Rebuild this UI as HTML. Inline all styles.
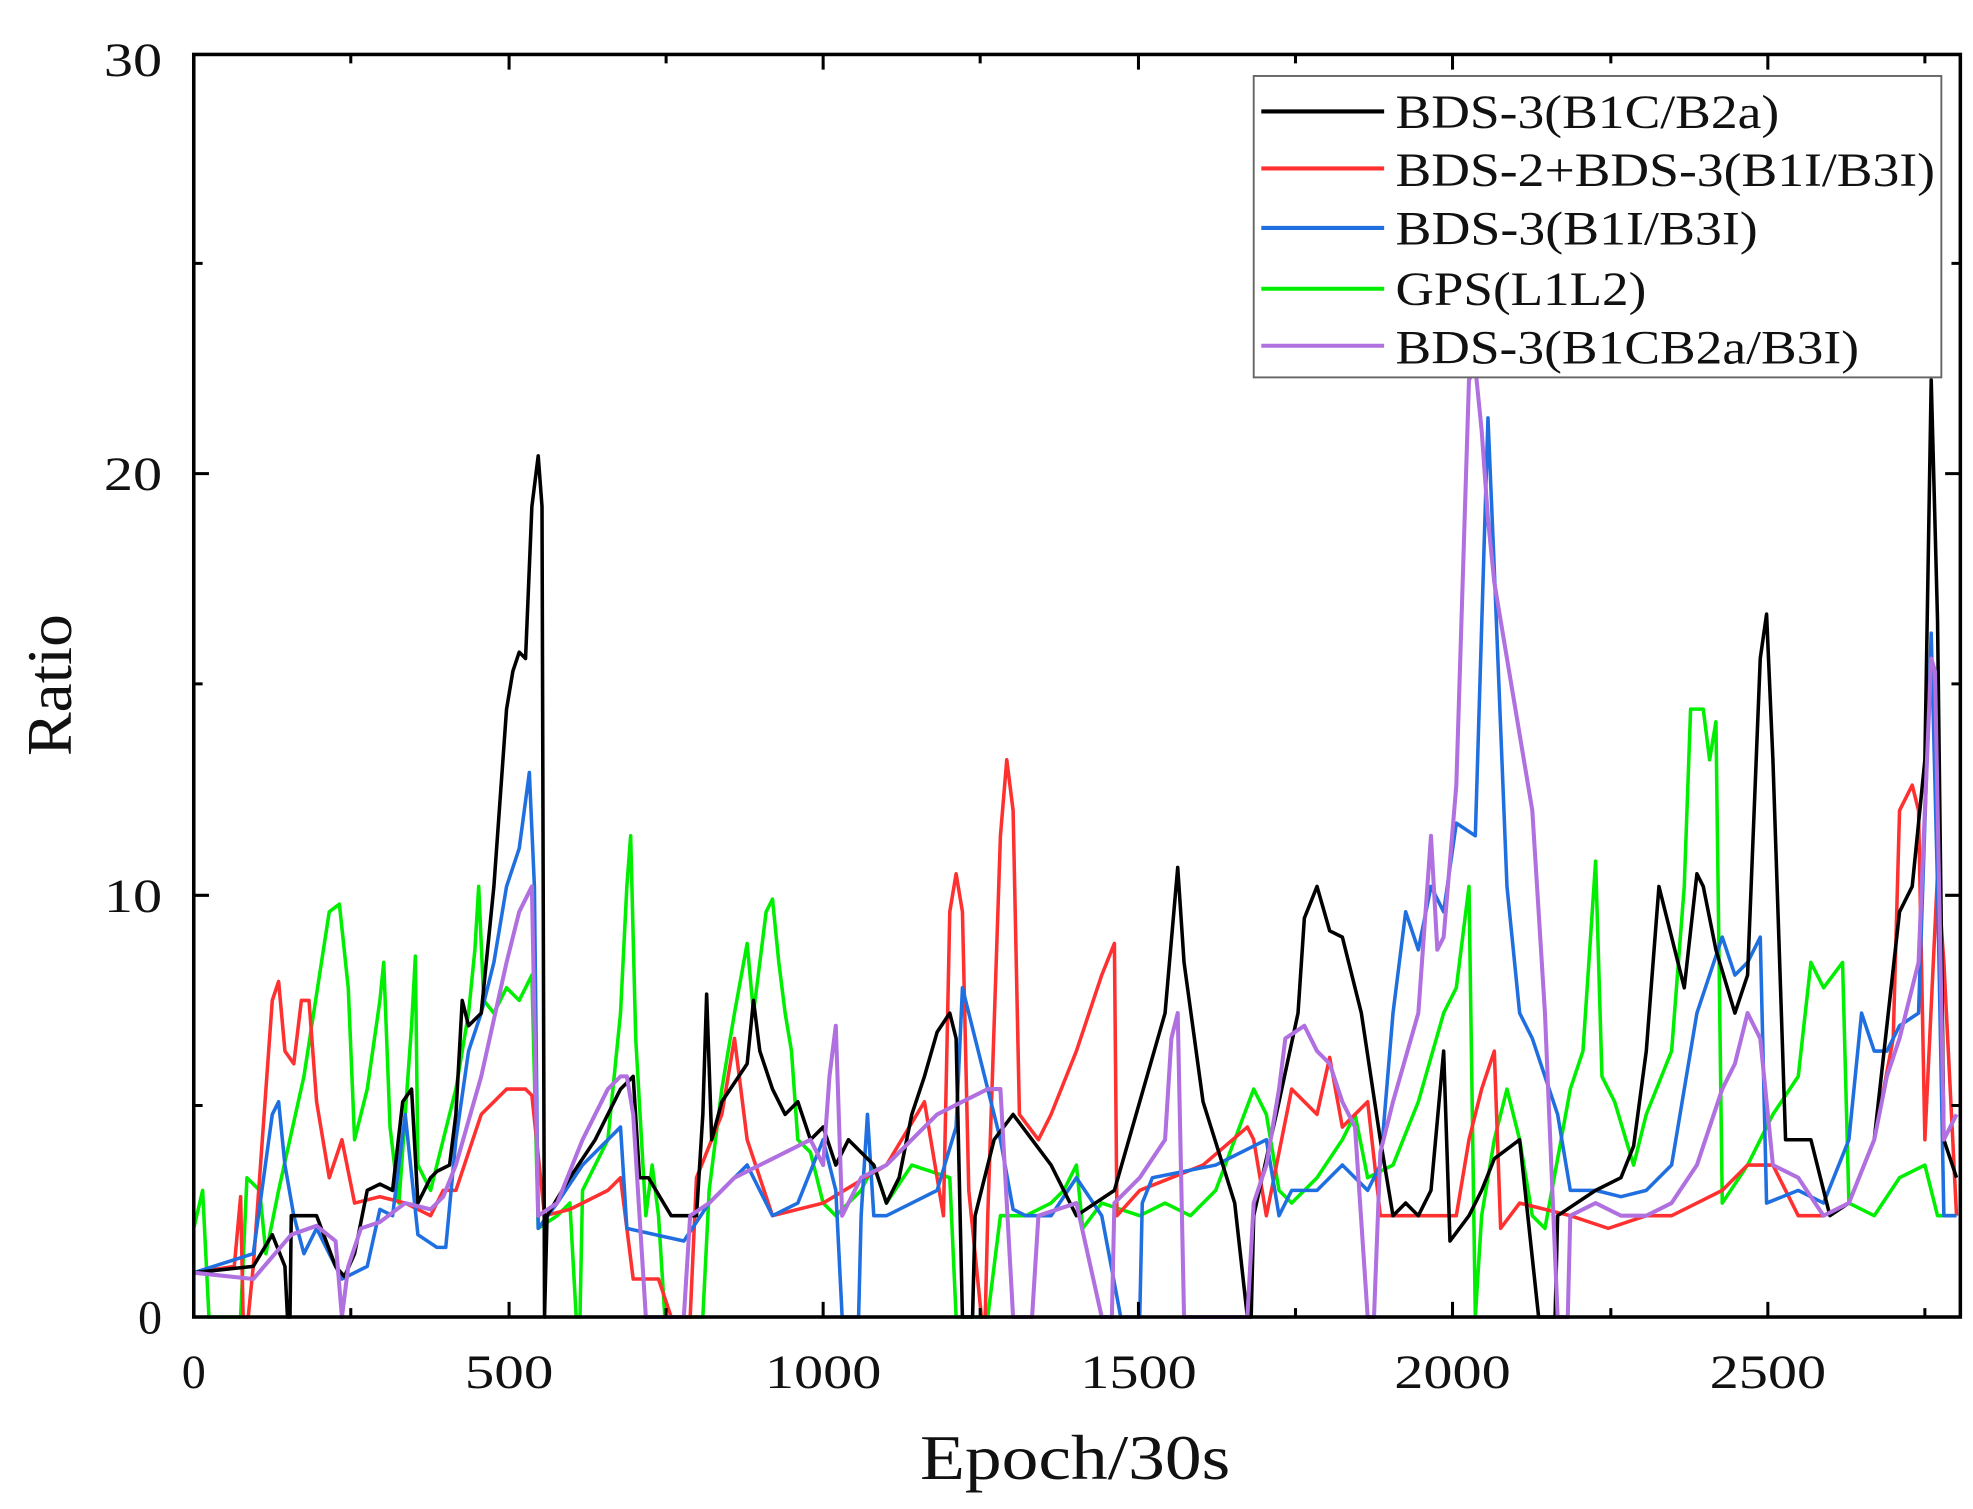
<!DOCTYPE html>
<html><head><meta charset="utf-8"><style>html,body{margin:0;padding:0;background:#fff}svg{display:block}</style></head><body>
<svg width="1973" height="1509" viewBox="0 0 1558 1191.6" xmlns="http://www.w3.org/2000/svg" font-family="Liberation Serif, serif">
<rect width="1558" height="1192" fill="#fff"/>
<g fill="none" stroke-width="2.8" stroke-linejoin="round">
<polyline stroke="#00ee00" points="153,970 160,940 165,1040 190,1040 195,930 205,940 210,990 220,940 240,850 260,720 268,714 275,780 280,900 290,860 300,790 303,760 308,890 315,950 320,880 325,810 328,755 330,920 340,940 350,900 360,860 370,800 375,750 378,700 382,790 390,800 395,790 400,780 410,790 420,770 425,970 440,960 450,950 455,1040 458,1040 460,940 480,900 490,800 495,700 498,660 502,820 510,960 515,920 520,960 525,1040 555,1040 560,940 570,860 580,800 590,745 595,800 600,760 605,720 610,710 615,760 620,800 625,830 630,900 640,910 650,950 660,960 680,940 690,920 700,950 720,920 750,930 755,1040 780,1040 790,960 810,960 830,950 840,940 850,920 855,970 870,950 900,960 920,950 940,960 960,940 990,860 1000,880 1010,940 1020,950 1040,930 1060,900 1070,880 1080,930 1100,920 1120,870 1140,800 1150,780 1160,700 1165,1040 1170,960 1180,900 1190,860 1200,900 1210,960 1220,970 1240,860 1250,830 1260,680 1265,850 1275,870 1290,920 1300,880 1320,830 1330,700 1335,560 1345,560 1350,600 1355,570 1360,950 1380,920 1400,880 1420,850 1430,760 1440,780 1455,760 1460,950 1480,960 1500,930 1520,920 1530,960 1545,960"/>
<polyline stroke="#ff3030" points="153,1005 185,1000 190,945 192,1040 196,1040 200,1000 215,790 220,775 225,830 232,840 238,790 244,790 250,870 260,930 270,900 280,950 300,945 320,950 340,960 350,940 360,940 370,910 380,880 400,860 415,860 420,865 430,960 450,955 480,940 490,930 500,1010 520,1010 530,1040 545,1040 550,930 570,880 580,820 590,900 610,960 650,950 700,920 730,870 745,960 750,720 755,690 760,720 765,940 775,1040 778,1040 780,960 790,660 795,600 800,640 805,880 820,900 830,880 850,830 860,800 870,770 880,745 882,960 900,940 950,920 985,890 990,900 1000,960 1020,860 1030,870 1040,880 1050,835 1060,890 1080,870 1090,960 1150,960 1160,900 1170,860 1180,830 1185,970 1200,950 1240,960 1270,970 1300,960 1320,960 1340,950 1360,940 1380,920 1400,920 1420,960 1440,960 1460,950 1480,900 1495,820 1500,640 1510,620 1515,640 1520,900 1530,690 1535,760 1545,960"/>
<polyline stroke="#1f6fe0" points="153,1005 200,990 215,880 220,870 225,920 232,960 240,990 250,970 270,1010 290,1000 300,955 310,960 320,880 330,975 345,985 352,985 360,900 370,830 380,800 390,760 400,700 410,670 418,610 422,700 425,970 440,950 460,920 480,900 490,890 495,970 540,980 560,950 590,920 610,960 630,950 650,900 660,940 665,1040 678,1040 680,960 685,880 690,960 700,960 720,950 740,940 755,890 760,780 770,820 780,860 790,900 800,955 810,960 830,960 850,930 870,960 885,1040 900,1040 902,950 910,930 960,920 1000,900 1010,960 1020,940 1040,940 1060,920 1080,940 1090,920 1100,800 1110,720 1120,750 1130,700 1140,720 1150,650 1165,660 1175,330 1180,450 1190,700 1200,800 1210,820 1220,850 1230,880 1240,940 1260,940 1280,945 1300,940 1320,920 1340,800 1360,740 1370,770 1380,760 1390,740 1395,950 1420,940 1440,950 1460,900 1470,800 1480,830 1490,830 1500,810 1515,800 1525,500 1530,700 1535,960 1545,960"/>
<polyline stroke="#000" points="153,1005 200,1000 215,975 225,1000 227,1040 229,1040 230,960 250,960 265,1000 272,1008 280,990 290,940 300,935 310,940 318,870 325,860 330,950 340,930 345,925 355,920 360,880 365,790 370,810 380,800 390,700 400,560 405,530 410,515 415,520 420,400 425,360 428,400 430,1040 432,960 450,930 470,900 490,860 500,850 505,930 512,930 530,960 550,960 555,880 558,785 562,900 570,870 590,840 595,790 600,830 610,860 620,880 630,870 640,900 650,890 660,920 670,900 680,910 690,920 700,950 710,930 720,880 730,850 740,815 750,800 755,820 760,1040 768,1040 770,960 785,900 800,880 830,920 850,960 880,940 900,870 920,800 930,685 935,760 950,870 975,950 985,1040 988,1040 990,960 1010,870 1025,800 1030,725 1040,700 1050,735 1060,740 1065,760 1075,800 1090,900 1100,960 1110,950 1120,960 1130,940 1140,830 1145,980 1160,960 1170,940 1180,915 1200,900 1215,1040 1228,1040 1230,960 1260,940 1280,930 1290,905 1300,830 1310,700 1320,740 1330,780 1340,690 1345,700 1355,750 1370,800 1380,770 1390,520 1395,485 1400,600 1410,900 1430,900 1445,960 1460,950 1480,900 1500,720 1510,700 1520,600 1525,300 1530,490 1535,900 1545,930"/>
<polyline stroke="#b070e0" stroke-width="3.2" points="153,1005 200,1010 230,975 250,968 265,980 270,1040 275,1000 285,970 300,965 320,950 340,955 350,945 360,920 380,850 400,760 410,720 420,700 425,960 440,950 460,900 480,860 490,850 495,850 500,880 510,1040 540,1040 545,960 560,950 580,930 600,920 640,900 650,920 655,850 660,810 665,960 680,930 700,920 720,900 740,880 760,870 780,860 790,860 800,1040 815,1040 820,960 850,950 870,1040 878,1040 880,950 900,930 920,900 925,820 930,800 935,1040 985,1040 990,950 1000,920 1010,860 1015,820 1030,810 1040,830 1050,840 1060,870 1070,890 1080,1040 1085,1040 1090,910 1100,870 1120,800 1130,660 1135,750 1140,740 1150,620 1160,300 1165,290 1170,340 1175,410 1180,460 1190,520 1200,580 1210,640 1220,800 1230,1040 1238,1040 1240,960 1260,950 1280,960 1300,960 1320,950 1340,920 1360,860 1370,840 1380,800 1390,820 1400,920 1420,930 1440,960 1460,950 1480,900 1490,850 1500,820 1515,760 1525,520 1528,530 1535,900 1545,880"/>
</g>
<rect x="153" y="43" width="1395" height="997" fill="none" stroke="#000" stroke-width="2.8"/>
<g stroke="#000" stroke-width="2.4">
<path d="M153,1040v-12M402,1040v-12M650,1040v-12M899,1040v-12M1147,1040v-12M1396,1040v-12M277,1040v-7M526,1040v-7M774,1040v-7M1023,1040v-7M1272,1040v-7M1520,1040v-7"/>
<path d="M153,43v12M402,43v12M650,43v12M899,43v12M1147,43v12M1396,43v12M277,43v7M526,43v7M774,43v7M1023,43v7M1272,43v7M1520,43v7"/>
<path d="M153,707h12M153,374h12M153,873h7M153,540h7M153,208h7M1548,707h-12M1548,374h-12M1548,873h-7M1548,540h-7M1548,208h-7"/>
</g>
<g font-size="38" text-anchor="middle" fill="#111">
<text x="153" y="1096">0</text>
<text x="402" y="1096" textLength="70" lengthAdjust="spacingAndGlyphs">500</text>
<text x="650" y="1096" textLength="92" lengthAdjust="spacingAndGlyphs">1000</text>
<text x="899" y="1096" textLength="92" lengthAdjust="spacingAndGlyphs">1500</text>
<text x="1147" y="1096" textLength="92" lengthAdjust="spacingAndGlyphs">2000</text>
<text x="1396" y="1096" textLength="92" lengthAdjust="spacingAndGlyphs">2500</text>
</g>
<g font-size="38" text-anchor="end" fill="#111">
<text x="128" y="1053">0</text>
<text x="128" y="720" textLength="46" lengthAdjust="spacingAndGlyphs">10</text>
<text x="128" y="387" textLength="46" lengthAdjust="spacingAndGlyphs">20</text>
<text x="128" y="60" textLength="46" lengthAdjust="spacingAndGlyphs">30</text>
</g>
<text x="849" y="1168" font-size="50" text-anchor="middle" fill="#111" textLength="245" lengthAdjust="spacingAndGlyphs">Epoch/30s</text>
<text transform="translate(56,541) rotate(-90)" font-size="50" text-anchor="middle" fill="#111" textLength="112" lengthAdjust="spacingAndGlyphs">Ratio</text>
<rect x="990" y="60" width="543" height="238" fill="#fff" stroke="#666" stroke-width="1.5"/>
<g stroke-width="3.2">
<line x1="996" y1="88" x2="1093" y2="88" stroke="#000"/>
<line x1="996" y1="133" x2="1093" y2="133" stroke="#ff3030"/>
<line x1="996" y1="180" x2="1093" y2="180" stroke="#1f6fe0"/>
<line x1="996" y1="228" x2="1093" y2="228" stroke="#00ee00"/>
<line x1="996" y1="273" x2="1093" y2="273" stroke="#b070e0"/>
</g>
<g font-size="38" fill="#111" lengthAdjust="spacingAndGlyphs">
<text x="1102" y="101" textLength="303" lengthAdjust="spacingAndGlyphs">BDS-3(B1C/B2a)</text>
<text x="1102" y="147" textLength="426" lengthAdjust="spacingAndGlyphs">BDS-2+BDS-3(B1I/B3I)</text>
<text x="1102" y="193" textLength="286" lengthAdjust="spacingAndGlyphs">BDS-3(B1I/B3I)</text>
<text x="1102" y="241" textLength="198" lengthAdjust="spacingAndGlyphs">GPS(L1L2)</text>
<text x="1102" y="287" textLength="366" lengthAdjust="spacingAndGlyphs">BDS-3(B1CB2a/B3I)</text>
</g>
</svg>
</body></html>
